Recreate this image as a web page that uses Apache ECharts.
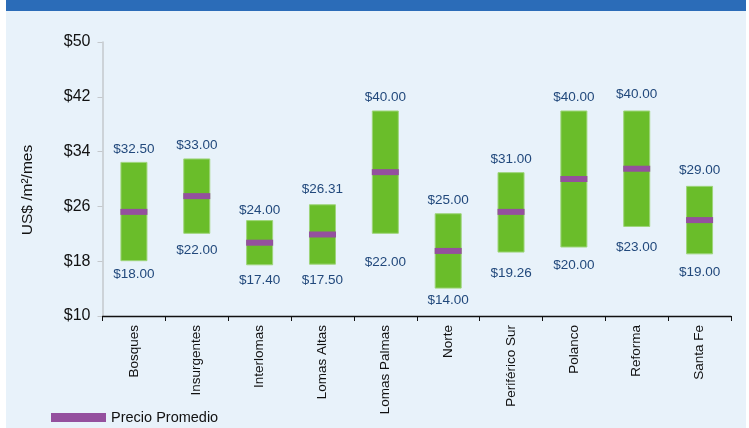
<!DOCTYPE html>
<html>
<head>
<meta charset="utf-8">
<script src="https://cdn.jsdelivr.net/npm/echarts@6/dist/echarts.min.js"></script>
<style>
  html, body { margin: 0; padding: 0; background: #ffffff; }
  #chart { width: 749px; height: 428px; }
</style>
</head>
<body>
<div id="chart"></div>
<script>
// submarkets and rent ranges (US$ /m²/mes)
const zonas = ['Bosques', 'Insurgentes', 'Interlomas', 'Lomas Altas', 'Lomas Palmas',
    'Norte', 'Periférico Sur', 'Polanco', 'Reforma', 'Santa Fe']
const precioMin = [18.00, 22.00, 17.40, 17.50, 22.00, 14.00, 19.26, 20.00, 23.00, 19.00]
const precioMax = [32.50, 33.00, 24.00, 26.31, 40.00, 25.00, 31.00, 40.00, 40.00, 29.00]
const precioPromedio = [25.2, 27.5, 20.7, 21.9, 31.0, 19.5, 25.2, 30.0, 31.5, 24.0]
const yTicks = [10, 18, 26, 34, 42, 50]

// hand-placed label nudges in the source slide (px)
const nudgeLow = [0, 3, 1.5, 2.5, 15, -1, 8, 5, 7, 5]
const nudgeHigh = [0, 0, -3, 1.5, 0, 0, 0, 0, 3, 3]

const c = {
    bg: '#e8f2fa',
    band: '#2b6cb8',
    green: '#6abd2a',
    greenEdge: '#9ed57a',
    purple: '#94509e',
    label: '#22497c',
    text: '#111111',
    axisGrey: '#c4c8cc',
}

const money = (v) => '$' + v.toFixed(2)

const chart = echarts.init(document.getElementById('chart'))

chart.setOption({
    animation: false,
    textStyle: { fontFamily: 'Liberation Sans, Arial, sans-serif' },
    graphic: [
        { type: 'rect', z: -10, shape: { x: 6, y: 0, width: 740, height: 428 }, style: { fill: c.bg } },
        { type: 'rect', z: -9, shape: { x: 6, y: 0, width: 740, height: 11 }, style: { fill: c.band } },
    ],
    grid: { left: 102.5, right: 18, top: 42, bottom: 112 },
    legend: {
        data: [{ name: 'Precio Promedio', icon: 'rect' }],
        left: 46,
        top: 405,
        itemWidth: 55,
        itemHeight: 9,
        itemGap: 8,
        textStyle: { color: c.text, fontSize: 14.5, fontFamily: 'Liberation Sans, Arial, sans-serif' },
    },
    xAxis: {
        type: 'category',
        data: zonas,
        axisLine: { lineStyle: { color: '#111', width: 1.3 } },
        axisTick: { show: true, length: 5, lineStyle: { color: '#111' } },
        axisLabel: { rotate: 90, margin: 9, color: c.text, fontSize: 13.5, interval: 0 },
    },
    yAxis: {
        type: 'value',
        min: yTicks[0],
        max: yTicks[yTicks.length - 1],
        interval: yTicks[1] - yTicks[0],
        name: 'US$ /m²/mes',
        nameLocation: 'middle',
        nameGap: 67,
        nameTextStyle: { color: c.text, fontSize: 15.5, padding: [0, 22, 0, 0] },
        axisLine: { show: true, lineStyle: { color: c.axisGrey, width: 1.5 } },
        axisTick: { show: true, length: 5, lineStyle: { color: c.axisGrey } },
        axisLabel: { color: c.text, fontSize: 16, margin: 12, formatter: (v) => '$' + v },
        splitLine: { show: false },
    },
    series: [
        {
            name: 'base',
            type: 'bar',
            stack: 'rango',
            barWidth: 27,
            itemStyle: { color: 'transparent' },
            data: precioMin.map((v, i) => ({ value: v, label: { offset: [0, nudgeLow[i]] } })),
            label: {
                show: true,
                position: 'insideTop',
                distance: 6,
                color: c.label,
                fontSize: 13.5,
                formatter: (p) => money(p.value),
            },
            silent: true,
        },
        {
            name: 'rango',
            type: 'bar',
            stack: 'rango',
            barWidth: 27,
            itemStyle: { color: c.green, borderColor: c.greenEdge, borderWidth: 1 },
            data: precioMax.map((v, i) => ({
                value: +(v - precioMin[i]).toFixed(2),
                label: { offset: [0, -nudgeHigh[i]] },
            })),
            label: {
                show: true,
                position: 'top',
                distance: 6,
                color: c.label,
                fontSize: 13.5,
                formatter: (p) => money(precioMax[p.dataIndex]),
            },
        },
        {
            name: 'Precio Promedio',
            type: 'scatter',
            symbol: 'rect',
            symbolSize: [27, 6],
            itemStyle: { color: c.purple, opacity: 1 },
            z: 5,
            data: precioPromedio,
        },
    ],
})
</script>
</body>
</html>
